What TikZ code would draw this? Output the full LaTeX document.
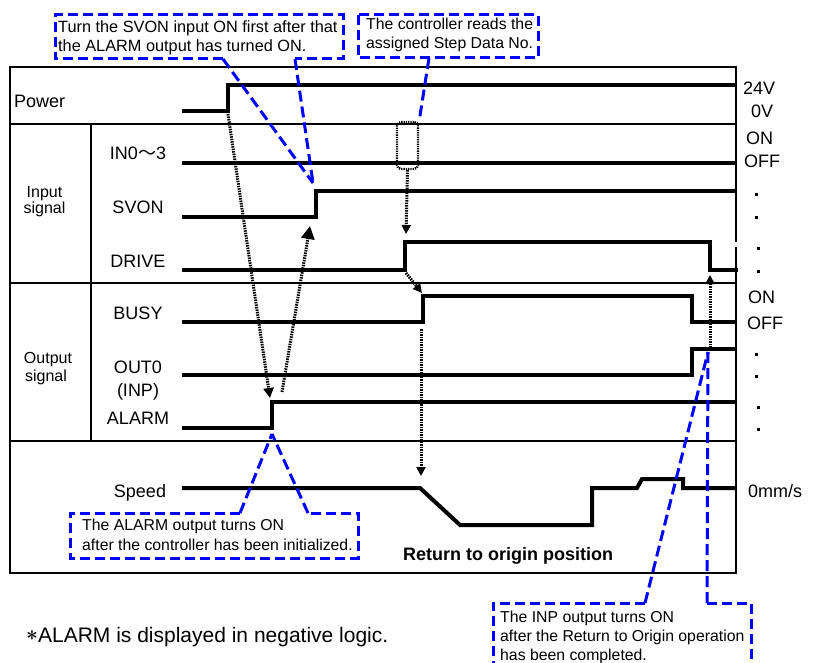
\documentclass[tikz,border=0pt]{standalone}
\usepackage{fontspec}
\setmainfont{Liberation Sans}
\newfontfamily\cjkfont{Noto Sans CJK JP}
\usetikzlibrary{arrows.meta}
\definecolor{cblue}{RGB}{0,0,255}
\begin{document}
\begin{tikzpicture}[x=1pt,y=-1pt,
  frame/.style={line width=2pt},
  sig/.style={line width=4pt, line join=miter},
  callout/.style={draw=cblue, line width=3pt, dash pattern=on 10pt off 5pt},
  ptr/.style={draw=cblue, line width=3pt, dash pattern=on 11pt off 5pt},
  dotarrow/.style={line width=3pt, dash pattern=on 1.5pt off 1pt, -{Triangle[length=#1,width=#1]}},
  dotarrow/.default=9pt,
  lab/.style={font=\fontsize{18}{20}\selectfont, inner sep=0pt, anchor=base},
  rlab/.style={font=\fontsize{18}{20}\selectfont, inner sep=0pt, anchor=base west},
  grp/.style={font=\fontsize{16}{18}\selectfont, inner sep=0pt, anchor=base},
  ctext/.style={font=\fontsize{15.8}{18}\selectfont, inner sep=0pt, anchor=base west},
  dotmark/.style={fill=black, inner sep=0pt, minimum size=3pt}
]
\useasboundingbox (0,0) rectangle (819,663);

% frame
\draw[frame] (10,67) -- (736,67);
\draw[frame] (10,124) -- (736,124);
\draw[frame] (10,283) -- (736,283);
\draw[frame] (10,441) -- (736,441);
\draw[frame] (10,573) -- (736,573);
\draw[frame] (10,66) -- (10,574);
\draw[frame] (736,66) -- (736,242);
\draw[frame] (736,247) -- (736,574);
\draw[frame] (91,124) -- (91,441);

% signal labels
\node[rlab] (power) at (14,108) {Power};
\node[lab] (in03) at (138,160) {IN0{\cjkfont ～}3};
\node[lab] (svon) at (138,214) {SVON};
\node[lab] (drive) at (138,267) {DRIVE};
\node[lab] (busy) at (138,319) {BUSY};
\node[lab] (out0) at (138,373) {OUT0};
\node[lab] (inp) at (138,396) {(INP)};
\node[lab] (alarm) at (138,424) {ALARM};
\node[lab] (speed) at (140,497) {Speed};
\node[grp] (in1) at (44.5,197) {Input};
\node[grp] (in2) at (44.5,214) {signal};
\node[grp] (out1) at (48,363) {Output};
\node[grp] (out2) at (46,381) {signal};

% right labels
\node[rlab] (v24) at (743,95) {24V};
\node[rlab] (v0) at (751,118) {0V};
\node[rlab] (on1) at (746,145) {ON};
\node[rlab] (off1) at (744,168) {OFF};
\node[rlab] (on2) at (748,303) {ON};
\node[rlab] (off2) at (747,329) {OFF};
\node[rlab] (zero) at (748,497) {0mm/s};
\foreach \yy/\xx [count=\i] in {195/756,218/756,248/758,271/758,354/756,376/756,407/758,429/758}
  \node[dotmark] (dot\i) at (\xx,\yy) {};

% waveforms
\draw[sig] (182,111) -- (228,111) -- (228,85) -- (736,85);
\draw[sig] (182,163) -- (736,163);
\draw[sig] (182,217) -- (316,217) -- (316,191) -- (736,191);
\draw[sig] (182,270) -- (405,270) -- (405,242) -- (710,242) -- (710,270) -- (738,270);
\draw[sig] (182,322) -- (423,322) -- (423,296) -- (692,296) -- (692,322) -- (736,322);
\draw[sig] (182,375) -- (692,375) -- (692,349) -- (736,349);
\draw[sig] (182,428) -- (272,428) -- (272,402) -- (736,402);
\draw[sig] (182,488) -- (420,488) -- (460,525) -- (592,525) -- (592,488) -- (637,488) -- (642,479) -- (683,479) -- (683,488) -- (736,488);

% dotted selection box on IN0~3
\node[draw, line width=2.4pt, dash pattern=on 1.3pt off 1pt, rounded corners=4pt,
      minimum width=21pt, minimum height=47pt, inner sep=0pt] (sel) at (407.5,145.5) {};

% dotted arrows
\coordinate (pwrup) at (228,114);
\coordinate (alarmtop) at (270,398);
\coordinate (alarmfoot) at (282,392);
\coordinate (svonfoot) at (310,226);
\coordinate (drivetop) at (406,234);
\coordinate (drivefoot) at (406,273);
\coordinate (busytop) at (422,293);
\coordinate (busyfoot) at (421,329);
\coordinate (speedtop) at (421,476);
\coordinate (inphigh) at (710,350);
\coordinate (drivefall) at (710,275);
\draw[dotarrow=10pt] (pwrup) -- (alarmtop);
\draw[dotarrow=13pt] (alarmfoot) -- (svonfoot);
\draw[dotarrow] (sel.south) -- (drivetop);
\draw[dotarrow] (drivefoot) -- (busytop);
\draw[dotarrow] (busyfoot) -- (speedtop);
\draw[dotarrow] (inphigh) -- (drivefall);

% callout 1
\draw[callout] (223,59) -- (55,59) -- (55,15) -- (343,15) -- (343,59) -- (295,59);
\node[ctext, font=\fontsize{16.3}{18}\selectfont] (c1a) at (58,33) {Turn the SVON input ON first after that};
\node[ctext, font=\fontsize{16.3}{18}\selectfont] (c1b) at (58,52) {the ALARM output has turned ON.};
\coordinate (c1p) at (223,59);
\coordinate (c1q) at (295,59);
\coordinate (t1) at (313,183);
\draw[ptr] (c1p) -- (t1);
\draw[ptr] (c1q) -- (t1);

% callout 2
\draw[callout] (358,15) rectangle (538,58);
\node[ctext] (c2a) at (366,30) {The controller reads the};
\node[ctext] (c2b) at (366,49) {assigned Step Data No.};
\coordinate (c2p) at (429,58);
\draw[ptr] (c2p) -- (sel.north east);

% callout 3
\draw[callout] (240,513) -- (70,513) -- (70,558) -- (358,558) -- (358,513) -- (308,513);
\node[ctext] (c3a) at (82,530) {The ALARM output turns ON};
\node[ctext] (c3b) at (82,550) {after the controller has been initialized.};
\coordinate (c3p) at (240,513);
\coordinate (c3q) at (308,513);
\coordinate (t3) at (272,434);
\draw[ptr] (c3p) -- (t3);
\draw[ptr] (c3q) -- (t3);

% callout 4
\draw[callout] (645,603) -- (493,603) -- (493,670);
\draw[callout] (707,603) -- (751,603) -- (751,670);
\node[ctext] (c4a) at (500,622) {The INP output turns ON};
\node[ctext] (c4b) at (500,641) {after the Return to Origin operation};
\node[ctext] (c4c) at (500,660) {has been completed.};
\coordinate (c4p) at (645,603);
\coordinate (c4q) at (707,603);
\coordinate (t4) at (708,352);
\draw[ptr] (c4p) -- (t4);
\draw[ptr] (c4q) -- (t4);

% other texts
\node[anchor=base west, inner sep=0pt, font=\bfseries\fontsize{18}{20}\selectfont] (ret) at (403,560) {Return to origin position};
\node[anchor=base west, inner sep=0pt, font=\fontsize{21}{24}\selectfont] (note) at (26,642) {\raisebox{2pt}{\boldmath$\ast$}ALARM is displayed in negative logic.};
\end{tikzpicture}
\end{document}
